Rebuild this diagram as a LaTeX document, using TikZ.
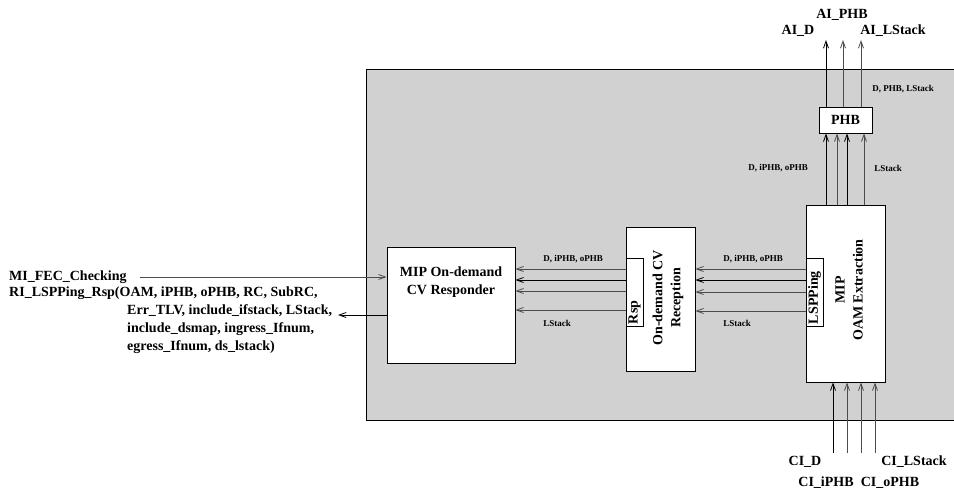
\documentclass[tikz,border=0pt]{standalone}
\usepackage{fontspec}
\setmainfont{Liberation Serif}
\usepackage{tikz}
\usetikzlibrary{positioning, arrows.meta}

\tikzset{
  box/.style={draw, fill=white, line width=0.8pt, inner sep=0pt},
  sig/.style={-{Straight Barb[length=7pt,width=5pt]}, line width=0.8pt, black!70},
  sigk/.style={sig, black},
  big/.style={font=\bfseries\fontsize{14}{18}\selectfont, inner sep=1pt},
  tiny/.style={font=\bfseries\fontsize{9}{10}\selectfont, inner sep=1pt}
}

\begin{document}
\begin{tikzpicture}[x=1pt, y=-1pt]
\useasboundingbox (0,0) rectangle (954,493);
\fill[black!18] (366,69) rectangle (954,420);
\draw[line width=0.8pt] (954,69) -- (366,69) -- (366,420) -- (954,420);

\node[box, minimum width=128, minimum height=116] (resp) at (451,305) {};
\node[big, align=center] (resptxt) at (451,282) {MIP On-demand\\CV Responder};
\node[box, minimum width=69, minimum height=144] (recv) at (660.5,299) {};
\node[big, align=center, rotate=90] (recvtxt) at (668,298) {On-demand CV\\Reception};
\node[box, big, rotate=90, minimum width=68, minimum height=17, text width=64, align=left, inner sep=2pt] (rsp) at (634.5,292) {Rsp};
\node[box, minimum width=79, minimum height=177] (oam) at (845.5,293.5) {};
\node[big, align=center, rotate=90] (oamtxt) at (849,290) {MIP\\OAM Extraction};
\node[box, big, rotate=90, minimum width=68, minimum height=17, text width=64, align=left, inner sep=2pt] (lsp) at (814.5,292) {LSPPing};
\node[box, big, minimum width=53, minimum height=26] (phb) at (845.5,120) {PHB};

\node[big, anchor=west] (mi) at (8,277) {MI\_FEC\_Checking};
\node[big, anchor=north west, align=left] (ri) at (8,286) {RI\_LSPPing\_Rsp(OAM, iPHB, oPHB, RC, SubRC,\\
\hspace*{118pt}Err\_TLV, include\_ifstack, LStack,\\
\hspace*{118pt}include\_dsmap, ingress\_Ifnum,\\
\hspace*{118pt}egress\_Ifnum, ds\_lstack)};
\coordinate (riend) at (338,315);
\draw[sig] ([xshift=12pt]mi.east) -- (resp.west |- mi.east);
\draw[sigk] (resp.west |- riend) -- (riend);

\draw[sig] (rsp.north |- 0,269) -- (resp.east |- 0,269);
\draw[sigk] (rsp.north |- 0,280) -- (resp.east |- 0,280);
\draw[sig] (rsp.north |- 0,291) -- (resp.east |- 0,291);
\draw[sig] (rsp.north |- 0,310) -- (resp.east |- 0,310);
\node[tiny] at (573,259) {D, iPHB, oPHB};
\node[tiny] at (557,323) {LStack};

\draw[sig] (lsp.north |- 0,269) -- (recv.east |- 0,269);
\draw[sigk] (lsp.north |- 0,280) -- (recv.east |- 0,280);
\draw[sig] (lsp.north |- 0,292) -- (recv.east |- 0,292);
\draw[sig] (lsp.north |- 0,311) -- (recv.east |- 0,311);
\node[tiny] at (753,259) {D, iPHB, oPHB};
\node[tiny] at (737,323) {LStack};

\draw[sigk] (oam.north -| 826,0) -- (phb.south -| 826,0);
\draw[sig] (oam.north -| 837,0) -- (phb.south -| 837,0);
\draw[sigk] (oam.north -| 847,0) -- (phb.south -| 847,0);
\draw[sig] (oam.north -| 864,0) -- (phb.south -| 864,0);
\node[tiny] at (778,168) {D, iPHB, oPHB};
\node[tiny] at (888,168) {LStack};

\coordinate (aid) at (826,40);
\coordinate (aiphb) at (843,40);
\coordinate (ails) at (861,40);
\draw[sigk] (phb.north -| aid) -- (aid);
\draw[sig] (phb.north -| aiphb) -- (aiphb);
\draw[sig] (phb.north -| ails) -- (ails);
\node[tiny] at (903,89) {D, PHB, LStack};
\node[big] at (798,31) {AI\_D};
\node[big] at (842,15) {AI\_PHB};
\node[big] at (893,31) {AI\_LStack};

\coordinate (cid) at (833,453);
\coordinate (ciiphb) at (847,453);
\coordinate (ciophb) at (861,453);
\coordinate (cils) at (875,453);
\draw[sigk] (cid) -- (oam.south -| cid);
\draw[sig] (ciiphb) -- (oam.south -| ciiphb);
\draw[sig] (ciophb) -- (oam.south -| ciophb);
\draw[sig] (cils) -- (oam.south -| cils);
\node[big] at (805,462) {CI\_D};
\node[big] at (914,462) {CI\_LStack};
\node[big] at (826,483) {CI\_iPHB};
\node[big] at (890,483) {CI\_oPHB};
\end{tikzpicture}
\end{document}
